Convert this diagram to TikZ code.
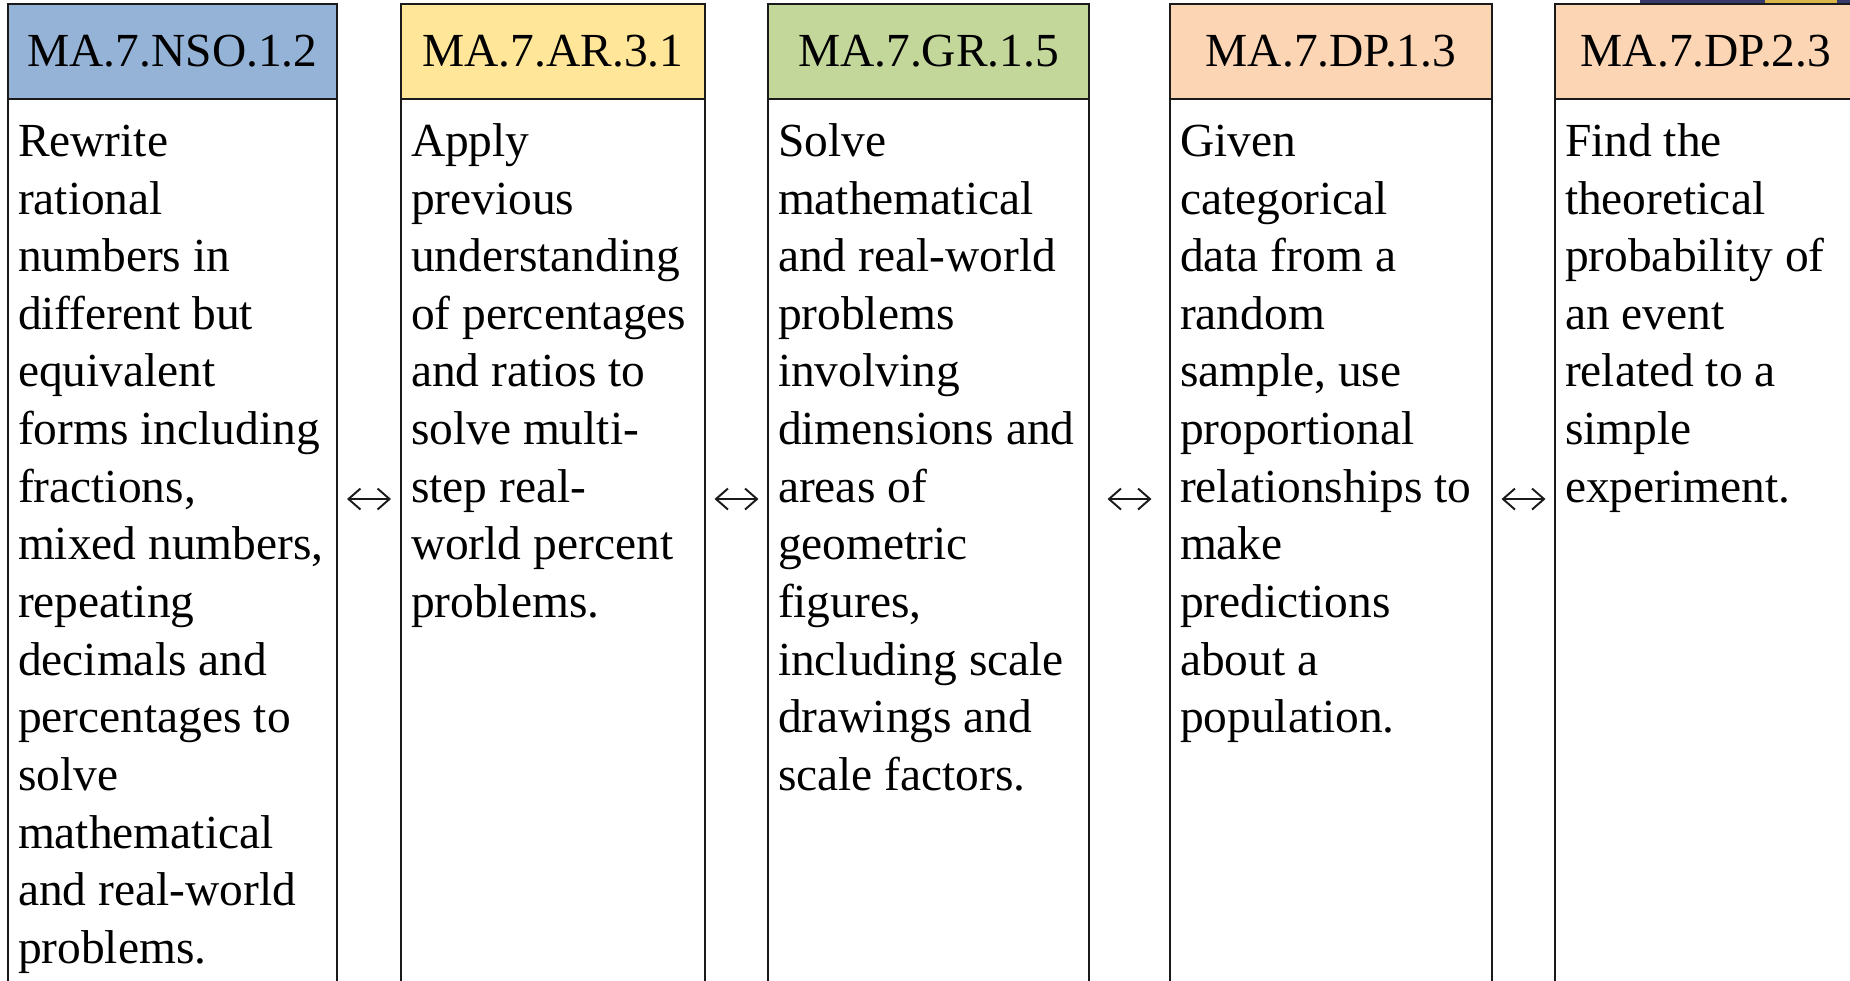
\documentclass[tikz,border=0pt]{standalone}
\usepackage{fontspec}
\setmainfont{Liberation Serif}
\usetikzlibrary{arrows.meta,positioning}
\definecolor{nsofill}{HTML}{95B3D7}
\definecolor{arfill}{HTML}{FFE699}
\definecolor{grfill}{HTML}{C4D79B}
\definecolor{dpfill}{HTML}{FCD5B4}
\definecolor{darkline}{HTML}{1A1A1A}
\definecolor{stripblue}{HTML}{363B6B}
\definecolor{stripgold}{HTML}{D9B54A}
\newcommand{\colbody}[2]{\parbox[t][9cm][t]{#1}{\raggedright\strut#2}}
\tikzset{
  stdfont/.style={font=\fontsize{13.5pt}{16.4pt}\selectfont},
  code/.style={rectangle, draw=darkline, line width=0.55pt, minimum height=0.95cm, inner sep=0pt, outer sep=0pt, anchor=north west, stdfont},
  nso/.style={code, fill=nsofill, minimum width=3.29cm},
  ar/.style={code, fill=arfill, minimum width=3.04cm},
  gr/.style={code, fill=grfill, minimum width=3.21cm},
  dp/.style={code, fill=dpfill, minimum width=3.22cm},
  desc/.style={rectangle, draw=darkline, line width=0.55pt, fill=white, inner xsep=0.1cm, inner ysep=0.17cm, outer sep=0pt, anchor=north west, stdfont},
  pair/.style={{Straight Barb[length=1.2mm,width=2.1mm]}-{Straight Barb[length=1.2mm,width=2.1mm]}, line width=0.55pt, draw=darkline}
}
\begin{document}
\begin{tikzpicture}

\useasboundingbox (0,0) rectangle (18.5,-9.8);
\clip (0,0) rectangle (18.5,-9.8);

\fill[stripblue] (16.40,0) rectangle (17.65,-0.03);
\fill[stripgold] (17.65,0) rectangle (18.37,-0.03);
\fill[stripblue] (18.37,0) rectangle (18.5,-0.03);

\node[nso] (nso) at (0.08,-0.04) {MA.7.NSO.1.2};
\node[ar] (ar) at (4.01,-0.04) {MA.7.AR.3.1};
\node[gr] (gr) at (7.68,-0.04) {MA.7.GR.1.5};
\node[dp] (dpone) at (11.70,-0.04) {MA.7.DP.1.3};
\node[dp, minimum width=3.02cm] (dptwo) at (15.55,-0.04) {MA.7.DP.2.3};

\node[desc] (nso-text) at (nso.south west) {\colbody{3.09cm}{Rewrite\\rational\\numbers in\\different but\\equivalent\\forms including\\fractions,\\mixed numbers,\\repeating\\decimals and\\percentages to\\solve\\mathematical\\and real-world\\problems.}};
\node[desc] (ar-text) at (ar.south west) {\colbody{2.84cm}{Apply\\previous\\understanding\\of percentages\\and ratios to\\solve multi-\\step real-\\world percent\\problems.}};
\node[desc] (gr-text) at (gr.south west) {\colbody{3.01cm}{Solve\\mathematical\\and real-world\\problems\\involving\\dimensions and\\areas of\\geometric\\figures,\\including scale\\drawings and\\scale factors.}};
\node[desc] (dpone-text) at (dpone.south west) {\colbody{3.02cm}{Given\\categorical\\data from a\\random\\sample, use\\proportional\\relationships to\\make\\predictions\\about a\\population.}};
\node[desc] (dptwo-text) at (dptwo.south west) {\colbody{2.82cm}{Find the\\theoretical\\probability of\\an event\\related to a\\simple\\experiment.}};

\coordinate (arrowrow) at (0,-4.99);
\foreach \a/\b/\s in {nso/ar/1.0mm, ar/gr/0.95mm, gr/dpone/1.85mm, dpone/dptwo/0.95mm} {
  \draw[pair, shorten <=\s, shorten >=\s] (\a-text.east |- arrowrow) -- (\b-text.west |- arrowrow);
}

\end{tikzpicture}
\end{document}
